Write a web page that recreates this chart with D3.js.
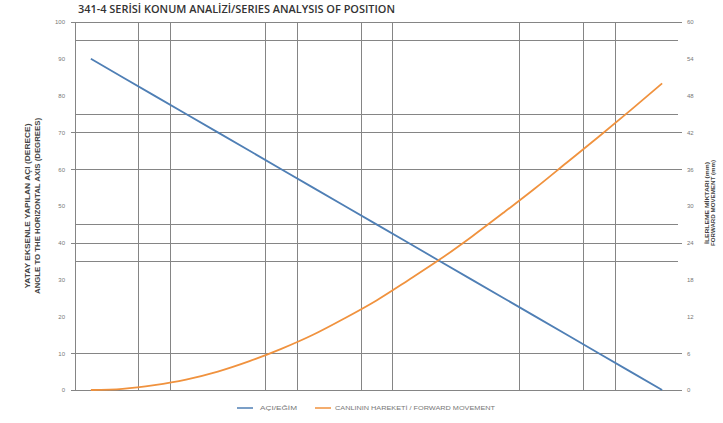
<!DOCTYPE html>
<html><head><meta charset="utf-8">
<script src="https://cdn.jsdelivr.net/npm/d3@7"></script>
<style>body{margin:0;background:#fff}svg{display:block}</style>
</head><body>
<svg id="c" width="723" height="423"></svg>
<script>
// ---- data ----
const angles = [90,85,80,75,70,65,60,55,50,45,40,35,30,25,20,15,10,5,0];
const angleSeries = [90,85,80,75,70,65,60,55,50,45,40,35,30,25,20,15,10,5,0];
const movementSeries = [0,0.2,0.8,1.7,3.0,4.7,6.7,9.0,11.7,14.6,17.9,21.3,25.0,28.9,32.9,37.1,41.3,45.6,50.0];
const leftTicks = [0,10,20,30,40,50,60,70,80,90,100];
const rightTicks = [0,6,12,18,24,30,36,42,48,54,60];
const hGridValues = [100,95,75,70,60,45,40,35,10,0];
const hGridMajor = [100,70,60,40,10,0];
const vGridBoundaries = [2,3,6,7,9,10,14,16,17];
const title = "341-4 SERİSİ KONUM ANALİZİ/SERIES ANALYSIS OF POSITION";
const leftTitle = ["YATAY EKSENLE YAPILAN AÇI (DERECE)","ANGLE TO THE HORIZONTAL AXIS (DEGREES)"];
const rightTitle = ["İLERLEME MİKTARI (mm)","FORWARD MOVEMENT (mm)"];
const legendNames = ["AÇI/EĞİM","CANLININ HAREKETİ / FORWARD MOVEMENT"];
const colors = ["#4F7FB5","#F0923E"];

const svg = d3.select("#c");
const L = 75, R = 678, T = 22, B = 390;
const x = d3.scaleBand().domain(angles.map((a,i)=>i)).range([L,R]).paddingInner(0).paddingOuter(0);
const yL = d3.scaleLinear().domain([0,100]).range([B,T]);
const yR = d3.scaleLinear().domain([0,60]).range([B,T]);
const cx = i => x(i) + x.bandwidth()/2;

// horizontal gridlines
const grid = svg.append("g").attr("stroke","#858585").attr("stroke-width",1).attr("shape-rendering","crispEdges");
hGridValues.forEach(v=>{
  const major = hGridMajor.includes(v);
  grid.append("line").attr("x1", major ? L-4 : L).attr("x2", major ? R+4 : R)
    .attr("y1", Math.round(yL(v))+0.5).attr("y2", Math.round(yL(v))+0.5);
});
// vertical gridlines
vGridBoundaries.forEach(k=>{
  const px = Math.round(x.range()[0] + k*x.step())+0.5;
  grid.append("line").attr("x1",px).attr("x2",px).attr("y1",yL(100)).attr("y2",yL(0));
});
// left axis line
grid.append("line").attr("x1",L+0.5).attr("x2",L+0.5).attr("y1",yL(100)).attr("y2",yL(0));

// axes tick labels using d3 axes
const axL = d3.axisLeft(yL).tickValues(leftTicks).tickSize(0).tickPadding(10);
const gL = svg.append("g").attr("transform",`translate(${L},0)`).call(axL);
gL.select(".domain").remove();
gL.selectAll("text").attr("font-family","Liberation Sans, Arial").attr("font-size",6).attr("fill","#777");
const axR = d3.axisRight(yR).tickValues(rightTicks).tickSize(0).tickPadding(9);
const gR = svg.append("g").attr("transform",`translate(${R},0)`).call(axR);
gR.select(".domain").remove();
gR.selectAll("text").attr("font-family","Liberation Sans, Arial").attr("font-size",6).attr("fill","#777");

// lines
const lineL = d3.line().x((d,i)=>cx(i)).y(d=>yL(d));
const lineR = d3.line().x((d,i)=>cx(i)).y(d=>yR(d)).curve(d3.curveMonotoneX);
svg.append("path").datum(angleSeries).attr("d",lineL).attr("fill","none").attr("stroke",colors[0]).attr("stroke-width",1.8);
svg.append("path").datum(movementSeries).attr("d",lineR).attr("fill","none").attr("stroke",colors[1]).attr("stroke-width",1.8);

// title
svg.append("text").attr("x",78).attr("y",13).text(title)
  .attr("font-family","Open Sans, Liberation Sans, Arial").attr("font-size",11).attr("font-weight",600)
  .attr("fill","#333").attr("textLength",317).attr("lengthAdjust","spacingAndGlyphs");

// axis titles
const midY = (T+B)/2;
leftTitle.forEach((t,i)=>{
  svg.append("text").attr("transform",`translate(${30+i*10},${midY}) rotate(-90)`)
    .attr("text-anchor","middle").text(t)
    .attr("font-family","Liberation Sans, Arial").attr("font-size",7.5).attr("font-weight","bold").attr("fill","#444")
    .attr("textLength", i===0?165:176).attr("lengthAdjust","spacingAndGlyphs");
});
rightTitle.forEach((t,i)=>{
  svg.append("text").attr("transform",`translate(${709+i*6},${midY-3}) rotate(-90)`)
    .attr("text-anchor","middle").text(t)
    .attr("font-family","Liberation Sans, Arial").attr("font-size",6).attr("font-weight","bold").attr("fill","#444")
    .attr("textLength", i===0?82:86).attr("lengthAdjust","spacingAndGlyphs");
});

// legend
const legendPos = [{sx:237, tx:260, tl:37},{sx:315, tx:335, tl:160}];
legendNames.forEach((n,i)=>{
  const p = legendPos[i];
  svg.append("line").attr("x1",p.sx).attr("x2",p.sx+16).attr("y1",408).attr("y2",408)
    .attr("stroke",colors[i]).attr("stroke-width",1.5);
  svg.append("text").attr("x",p.tx).attr("y",410).text(n)
    .attr("font-family","Liberation Sans, Arial").attr("font-size",5.5).attr("fill","#777")
    .attr("textLength",p.tl).attr("lengthAdjust","spacingAndGlyphs");
});
</script>
</body></html>
